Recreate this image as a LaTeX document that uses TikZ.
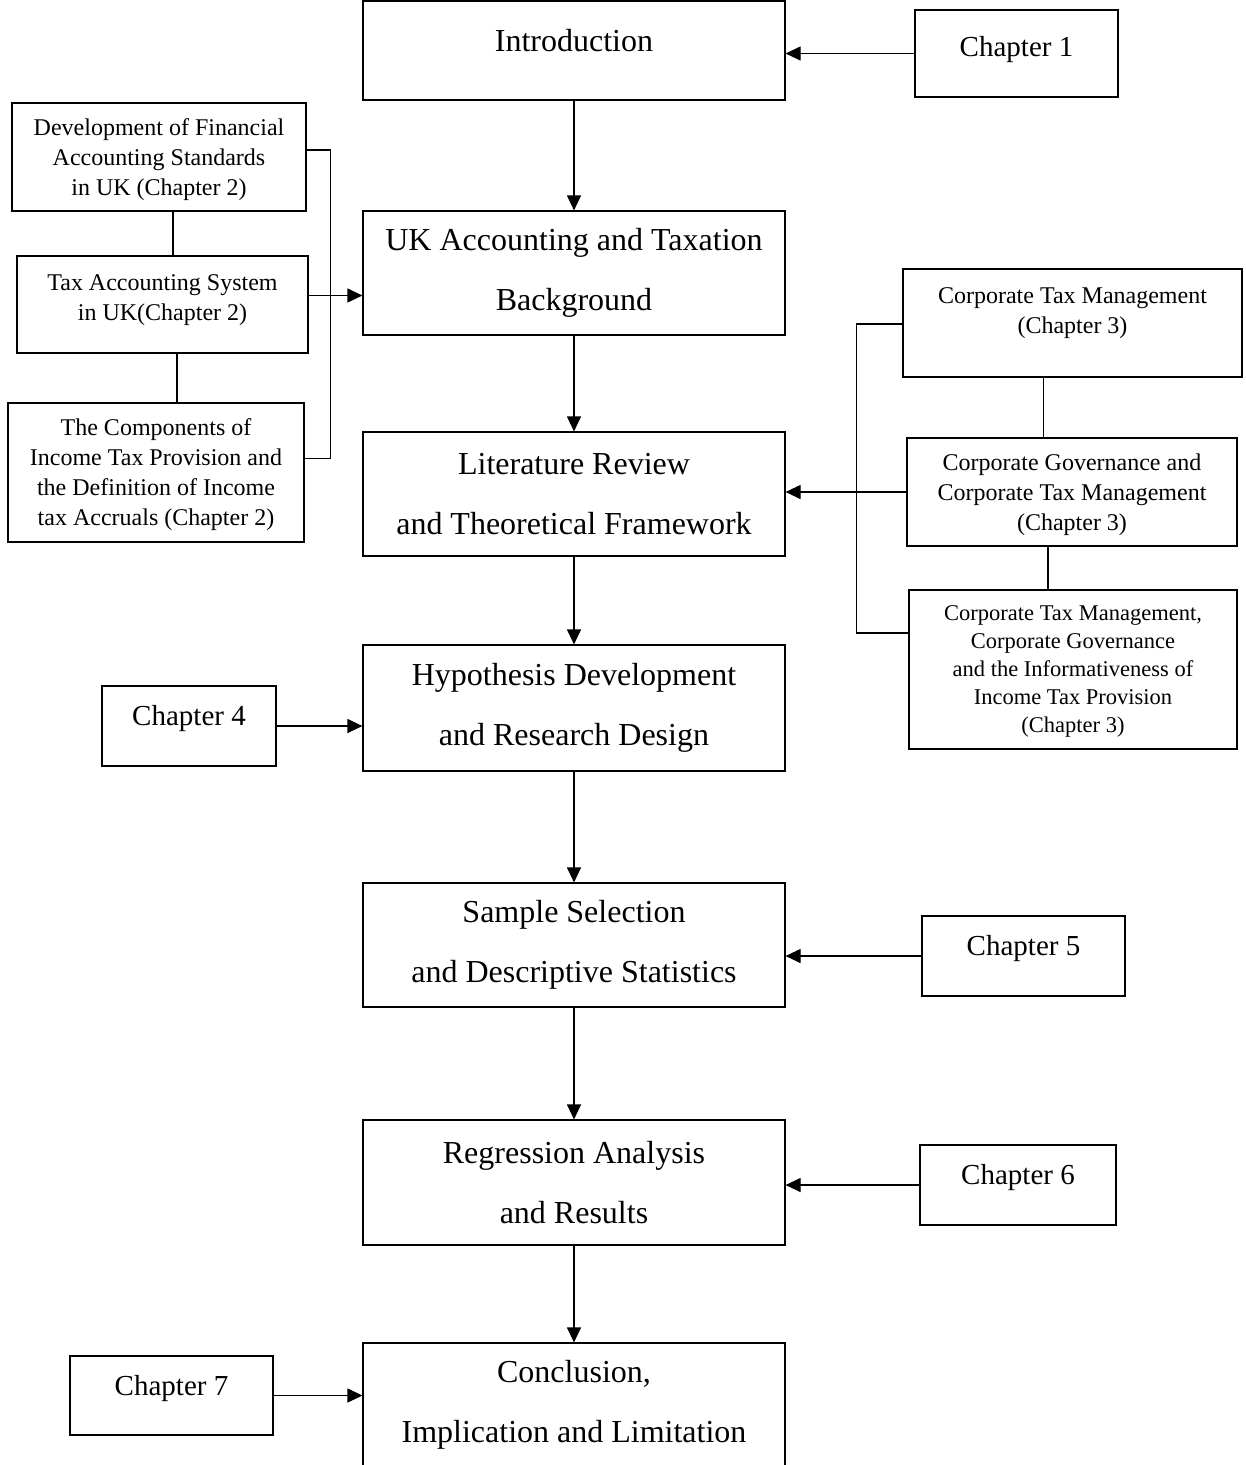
\documentclass[tikz,border=0pt]{standalone}
\usepackage{fontspec}
\setmainfont{Liberation Serif}
\usepackage{tikz}
\usetikzlibrary{arrows.meta,positioning}

\tikzset{
  box/.style={draw, line width=1.2pt, rectangle, align=center, inner sep=0pt},
  mainbox/.style={box, minimum width=422pt, minimum height=124pt, font=\fontsize{32}{60}\selectfont},
  chapbox/.style={box, font=\fontsize{29}{34}\selectfont, text depth=21pt},
  subbox/.style={box, font=\fontsize{24}{30}\selectfont, text depth=0pt},
  link/.style={line width=1.2pt},
  flow/.style={line width=1.2pt, -{Triangle[length=15pt,width=14pt]}}
}

\begin{document}
\begin{tikzpicture}[x=1pt,y=-1pt]
  \useasboundingbox (0,0) rectangle (1246,1465);
  \node[mainbox, minimum height=99pt, text depth=20pt] (intro) at (574,50.5) {Introduction};
  \node[mainbox] (uk) at (574,273) {UK Accounting and Taxation\\Background};
  \node[mainbox] (lit) at (574,494) {Literature Review\\and Theoretical Framework};
  \node[mainbox, minimum height=126pt] (hyp) at (574,708) {Hypothesis Development\\and Research Design};
  \node[mainbox] (smp) at (574,945) {Sample Selection\\and Descriptive Statistics};
  \node[mainbox, minimum height=125pt] (reg) at (574,1182.5) {Regression Analysis\\and Results};
  \node[mainbox] (con) at (574,1405) {Conclusion,\\Implication and Limitation};

  \node[chapbox, minimum width=203pt, minimum height=87pt, text depth=14pt] (ch1) at (1016.5,53.5) {Chapter 1};
  \node[chapbox, minimum width=174pt, minimum height=80pt] (ch4) at (189,726) {Chapter 4};
  \node[chapbox, minimum width=203pt, minimum height=80pt] (ch5) at (1023.5,956) {Chapter 5};
  \node[chapbox, minimum width=196pt, minimum height=80pt] (ch6) at (1018,1185) {Chapter 6};
  \node[chapbox, minimum width=203pt, minimum height=79pt] (ch7) at (171.5,1395.5) {Chapter 7};

  \node[subbox, minimum width=294pt, minimum height=108pt] (fas) at (159,157) {Development of Financial\\Accounting Standards\\in UK (Chapter 2)};
  \node[subbox, minimum width=291pt, minimum height=97pt, text depth=14pt] (tas) at (162.5,304.5) {Tax Accounting System\\in UK(Chapter 2)};
  \node[subbox, minimum width=296pt, minimum height=139pt] (cmp) at (156,472.5) {The Components of\\Income Tax Provision and\\the Definition of Income\\tax Accruals (Chapter 2)};
  \node[subbox, minimum width=339pt, minimum height=108pt, text depth=25pt] (ctm) at (1072.5,323) {Corporate Tax Management\\(Chapter 3)};
  \node[subbox, minimum width=330pt, minimum height=108pt] (cgm) at (1072,492) {Corporate Governance and\\Corporate Tax Management\\(Chapter 3)};
  \node[subbox, minimum width=328pt, minimum height=159pt, font=\fontsize{22.5}{28}\selectfont] (inf) at (1073,669.5) {Corporate Tax Management,\\Corporate Governance\\and the Informativeness of\\Income Tax Provision\\(Chapter 3)};

  \draw[flow] (ch1.west) -- (ch1.west -| intro.east);
  \draw[flow] (intro) -- (uk);
  \draw[flow] (uk) -- (lit);
  \draw[flow] (lit) -- (hyp);
  \draw[flow] (hyp) -- (smp);
  \draw[flow] (smp) -- (reg);
  \draw[flow] (reg) -- (con);
  \draw[flow] ([yshift=9pt]tas.east) -- ([yshift=9pt]tas.east -| uk.west);
  \draw[flow] (cgm.west) -- (cgm.west -| lit.east);
  \draw[flow] (ch4.east) -- (ch4.east -| hyp.west);
  \draw[flow] (ch5.west) -- (ch5.west -| smp.east);
  \draw[flow] (ch6.west) -- (ch6.west -| reg.east);
  \draw[flow] (ch7.east) -- (ch7.east -| con.west);

  \draw[link] ([xshift=14pt]fas.south) -- ([xshift=14pt]fas.south |- tas.north);
  \draw[link] ([xshift=14.5pt]tas.south) -- ([xshift=14.5pt]tas.south |- cmp.north);
  \draw[link] ([yshift=7pt]fas.east) -- ++(24,0) |- ([yshift=14pt]cmp.east);
  \draw[link] ([xshift=-29pt]ctm.south) -- ([xshift=-29pt]ctm.south |- cgm.north);
  \draw[link] ([xshift=-24pt]cgm.south) -- ([xshift=-24pt]cgm.south |- inf.north);
  \draw[link] ([yshift=-1pt]ctm.west) -- ++(-46,0) |- ([yshift=36.5pt]inf.west);
\end{tikzpicture}
\end{document}
